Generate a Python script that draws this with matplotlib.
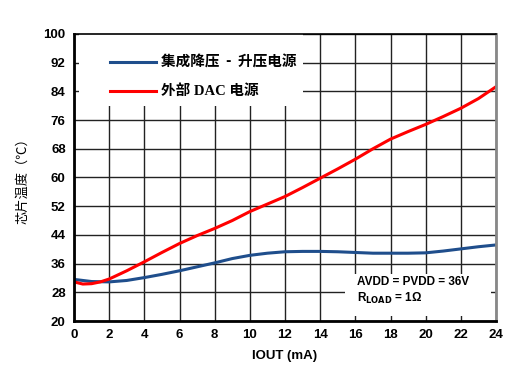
import numpy as np
import matplotlib.pyplot as plt
from matplotlib.patches import Rectangle

plt.rcParams['font.family'] = ['Liberation Sans', 'Noto Sans CJK SC', 'DejaVu Sans']

# данные
x_blue = [0, 1, 2, 3, 4, 5, 6, 7, 8, 9, 10, 11, 12, 13, 14, 15, 16, 17, 18, 19, 20, 21, 22, 23, 24]
y_blue = [31.6, 31.0, 30.9, 31.3, 32.1, 33.0, 34.0, 35.1, 36.2, 37.4, 38.3, 38.9, 39.3, 39.4, 39.4,
          39.3, 39.1, 38.9, 38.9, 38.9, 39.0, 39.5, 40.1, 40.7, 41.2]
x_red = [0, 0.5, 1, 1.5, 2, 3, 4, 5, 6, 7, 8, 9, 10, 11, 12, 13, 14, 15, 16, 17, 18, 19, 20, 21, 22, 23, 24]
y_red = [30.9, 30.3, 30.4, 30.9, 31.7, 34.0, 36.5, 39.1, 41.6, 43.8, 45.8, 48.0, 50.5, 52.6, 54.7,
         57.2, 59.8, 62.4, 65.1, 68.0, 70.7, 72.8, 74.8, 77.0, 79.3, 82.0, 85.3]
xticks = np.arange(0, 25, 2)
yticks = np.arange(20, 101, 8)

fig = plt.figure(figsize=(5.21, 3.74), dpi=100)
ax = fig.add_axes([74 / 521, 1 - 321 / 374, 422 / 521, 287 / 374])

ax.set_xlim(0, 24)
ax.set_ylim(20, 100)
ax.set_xticks(xticks)
ax.set_yticks(yticks)
ax.grid(True, color='#222222', linewidth=1)
ax.tick_params(length=0, labelsize=9.5, pad=6)
for lab in ax.get_xticklabels() + ax.get_yticklabels():
    lab.set_fontweight('bold')

ax.plot(x_blue, y_blue, color='#1f4e8c', linewidth=2.2, zorder=3)
ax.plot(x_red, y_red, color='#ff0000', linewidth=2.2, zorder=3)

# белые области под легендой и подписью
ax.add_patch(Rectangle((0.3, 80), 12.7, 20, transform=ax.transData,
                       facecolor='white', edgecolor='none', zorder=2))
ax.add_patch(Rectangle((15.4, 21.3), 8.3, 11.8, transform=ax.transData,
                       facecolor='white', edgecolor='none', zorder=2))

# легенда
ax.plot([2.05, 4.65], [92.2, 92.2], color='#1f4e8c', linewidth=2.2, zorder=4)
ax.plot([2.05, 4.65], [84.1, 84.1], color='#ff0000', linewidth=2.2, zorder=4)
ax.text(4.95, 92.2, '集成降压  -  升压电源', fontsize=10.5, fontweight='bold',
        va='center', ha='left', zorder=4, family=['Noto Sans CJK SC'])
ax.text(4.95, 84.1, '外部 DAC 电源', fontsize=10.5, fontweight='bold',
        va='center', ha='left', zorder=4,
        family=['Liberation Serif', 'Noto Sans CJK SC'])

ax.text(16.1, 31.0, 'AVDD = PVDD = 36V', fontsize=8.5, fontweight='bold',
        va='center', ha='left', zorder=4)
ax.text(16.1, 26.2, r'R$_{\mathbf{LOAD}}$ = 1Ω', fontsize=8.5, fontweight='bold',
        va='center', ha='left', zorder=4)

ax.set_xlabel('IOUT (mA)', fontsize=9.5, fontweight='bold', labelpad=6)
ax.set_ylabel('芯片温度（℃）', fontsize=9.5, labelpad=10, family=['Noto Sans CJK SC'])

for side in ['left', 'bottom']:
    ax.spines[side].set_linewidth(2)
ax.spines['top'].set_linewidth(1.2)
ax.spines['right'].set_linewidth(2)
ax.spines['right'].set_color('#888888')
for s in ax.spines.values():
    s.set_zorder(5)

plt.savefig('out.png', dpi=100)
